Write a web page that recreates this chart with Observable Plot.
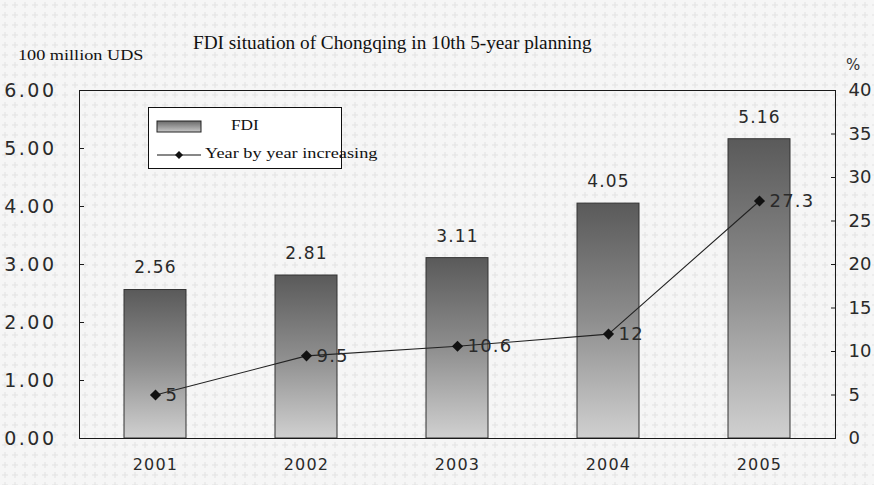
<!DOCTYPE html>
<html>
<head>
<meta charset="utf-8">
<script src="https://cdn.jsdelivr.net/npm/d3@7"></script>
<script src="https://cdn.jsdelivr.net/npm/@observablehq/plot@0.6"></script>
<style>
  html, body { margin: 0; padding: 0; }
  body {
    width: 874px; height: 485px; overflow: hidden;
    background-color: #f6f6f6;
    background-image: url("data:image/svg+xml,%3Csvg xmlns='http://www.w3.org/2000/svg' width='10' height='10'%3E%3Cpath d='M5 2v6M2 5h6' stroke='%23e2e2e2' stroke-width='1'/%3E%3C/svg%3E");
  }
  #wrap { position: relative; width: 874px; height: 485px; }
  #chart { position: absolute; left: 0; top: 0; }
  .t { position: absolute; white-space: nowrap; color: #111; font-family: "Liberation Serif", "Times New Roman", serif; transform-origin: left center; }
  #title { left: 193px; top: 33px; font-size: 18px; transform: scaleX(1.07); }
  #unitL { left: 18px; top: 48px; font-size: 14px; transform: scaleX(1.3); }
  #unitR { left: 846px; top: 56px; font-size: 15px; font-family: "DejaVu Sans", sans-serif; color: #333; }
  #legend { position: absolute; left: 148px; top: 107px; width: 192px; height: 60px; border: 1px solid #111; background: #fff; }
</style>
</head>
<body>
<div id="wrap">
  <div id="chart"></div>
  <div class="t" id="title">FDI situation of Chongqing in 10th 5-year planning</div>
  <div class="t" id="unitL">100 million UDS</div>
  <div class="t" id="unitR">%</div>
  <div id="legend">
    <svg width="192" height="60" style="position:absolute;left:0;top:0">
      <defs>
        <linearGradient id="legGrad" x1="0" y1="0" x2="0" y2="1">
          <stop offset="0" stop-color="#6a6a6a"/>
          <stop offset="1" stop-color="#c8c8c8"/>
        </linearGradient>
      </defs>
      <rect x="8" y="13" width="44" height="11" fill="url(#legGrad)" stroke="#222"/>
      <line x1="8" y1="47" x2="52" y2="47" stroke="#111" stroke-width="1.2"/>
      <path d="M30 43 L34 47 L30 51 L26 47 Z" fill="#111"/>
    </svg>
    <div class="t" style="left:82px;top:9px;font-size:15px;transform:scaleX(1.15)">FDI</div>
    <div class="t" style="left:56px;top:37px;font-size:15px;transform:scaleX(1.22)">Year by year increasing</div>
  </div>
</div>
<script>
const years = ["2001", "2002", "2003", "2004", "2005"];
const fdi = [2.56, 2.81, 3.11, 4.05, 5.16];
const growth = [5, 9.5, 10.6, 12, 27.3];
const leftTicks = [0, 1, 2, 3, 4, 5, 6];
const rightTicks = [0, 5, 10, 15, 20, 25, 30, 35, 40];
const leftMax = 6, rightMax = 40;

const k = leftMax / rightMax;
const data = years.map((y, i) => ({year: y, fdi: fdi[i], growth: growth[i]}));

const chart = Plot.plot({
  width: 874,
  height: 485,
  marginTop: 90,
  marginBottom: 47,
  marginLeft: 79,
  marginRight: 39,
  style: {background: "transparent", fontFamily: "DejaVu Sans, sans-serif", fontSize: "17px", color: "#2a2a2a", overflow: "visible"},
  x: {domain: years, paddingInner: 0.59, paddingOuter: 0.295},
  y: {domain: [0, leftMax]},
  marks: [
    Plot.barY(data, {x: "year", y: "fdi", fill: "url(#barGrad)", stroke: "#333", strokeWidth: 1}),
    Plot.frame({stroke: "#1a1a1a", strokeWidth: 1}),
    Plot.text(data, {x: "year", y: "fdi", text: d => d.fdi.toFixed(2), dy: -22, fontSize: 17, fill: "#2a2a2a", className: "sp"}),
    Plot.line(data, {x: "year", y: d => d.growth * k, stroke: "#222", strokeWidth: 1.1}),
    Plot.dot(data, {x: "year", y: d => d.growth * k, symbol: "diamond2", r: 5, fill: "#111", stroke: "none"}),
    Plot.text(data, {x: "year", y: d => d.growth * k, text: d => String(d.growth), textAnchor: "start", dx: 10, fontSize: 18, fill: "#2a2a2a", className: "sp"}),
    Plot.axisY({ticks: leftTicks, anchor: "left", tickSize: 0, tickPadding: 23, tickFormat: d => d.toFixed(2), label: null, fontSize: 19, className: "spw"}),
    Plot.axisY({ticks: leftTicks, anchor: "left", tickSize: 5, dx: 5, text: null, label: null, stroke: "#1a1a1a"}),
    Plot.axisY({ticks: rightTicks.map(v => v * k), anchor: "right", tickSize: 0, tickPadding: 13, tickFormat: d => String(Math.round(d / k)), label: null, fontSize: 18}),
    Plot.axisY({ticks: rightTicks.map(v => v * k), anchor: "right", tickSize: 5, dx: -5, text: null, label: null, stroke: "#1a1a1a"}),
    Plot.axisX({anchor: "bottom", tickSize: 0, tickPadding: 20, label: null, fontSize: 16, className: "sp"})
  ]
});

const svg = d3.select(chart);
const defs = svg.insert("defs", ":first-child");
const g = defs.append("linearGradient").attr("id", "barGrad").attr("x1", 0).attr("y1", 0).attr("x2", 0).attr("y2", 1);
g.append("stop").attr("offset", "0").attr("stop-color", "#5a5a5a");
g.append("stop").attr("offset", "0.5").attr("stop-color", "#8e8e8e");
g.append("stop").attr("offset", "1").attr("stop-color", "#d0d0d0");
svg.selectAll(".sp text, text.sp").style("letter-spacing", "1.2px");
svg.selectAll(".spw text, text.spw").style("letter-spacing", "2.5px");

document.getElementById("chart").appendChild(chart);
</script>
</body>
</html>
